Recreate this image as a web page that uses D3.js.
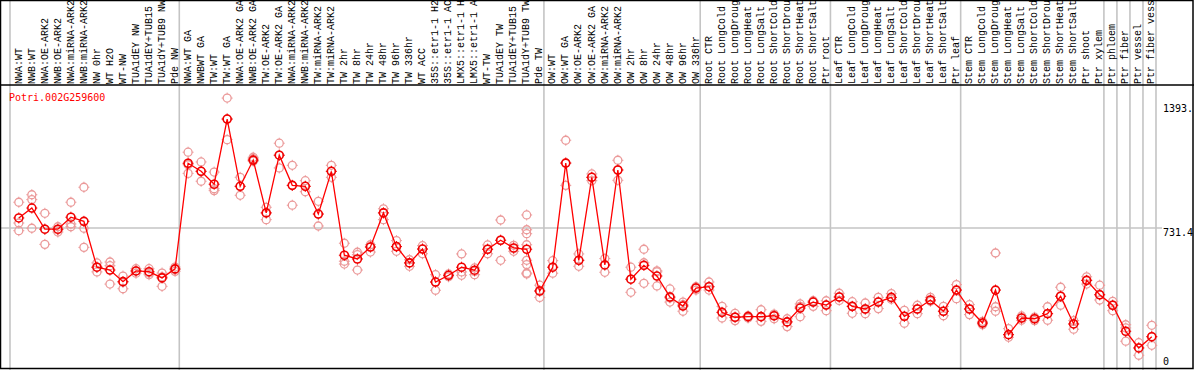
<!DOCTYPE html>
<html>
<head>
<meta charset="utf-8">
<script src="https://cdn.jsdelivr.net/npm/d3@7"></script>
<style>
body { margin: 0; background: #fff; }
svg text { font-family: "DejaVu Sans Mono", monospace; font-size: 10px; }
svg text.hdr { font-family: "Liberation Mono", monospace; font-size: 10px; }
</style>
</head>
<body>
<svg id="chart" width="1194" height="370"></svg>
<script>
// gene shown in the chart
var geneId = "Potri.002G259600";

// sample names, left to right
var samples = [
  "NWA:WT", "NWB:WT", "NWA:OE-ARK2", "NWB:OE-ARK2", "NWA:miRNA-ARK2", "NWB:miRNA-ARK2",
  "NW 0hr", "WT H2O", "WT-NW", "TUA1dEY NW", "TUA1dEY+TUB15 NW", "TUA1dY+TUB9 NW", "Pde NW",
  "NWA:WT GA", "NWBWT GA", "TW:WT", "TW:WT GA", "NWA:OE-ARK2 GA", "NWB:OE-ARK2 GA",
  "TW:OE-ARK2", "TW:OE-ARK2 GA", "NWA:miRNA-ARK2", "NWB:miRNA-ARK2", "TW:miRNA-ARK2",
  "TW:miRNA-ARK2", "TW 2hr", "TW 8hr", "TW 24hr", "TW 48hr", "TW 96hr", "TW 336hr",
  "WT ACC", "35S::etr1-1 H2O", "35S::etr1-1 ACC", "LMX5::etr1-1 H2O", "LMX5::etr1-1 ACC",
  "WT-TW", "TUA1dEY TW", "TUA1dEY+TUB15 TW", "TUA1dY+TUB9 TW", "Pde TW",
  "OW:WT", "OW:WT GA", "OW:OE-ARK2", "OW:OE-ARK2 GA", "OW:miRNA-ARK2", "OW:miRNA-ARK2",
  "OW 2hr", "OW 8hr", "OW 24hr", "OW 48hr", "OW 96hr", "OW 336hr",
  "Root CTR", "Root LongCold", "Root LongDrought", "Root LongHeat", "Root LongSalt",
  "Root ShortCold", "Root ShortDrought", "Root ShortHeat", "Root ShortSalt", "Ptr root",
  "Leaf CTR", "Leaf LongCold", "Leaf LongDrought", "Leaf LongHeat", "Leaf LongSalt",
  "Leaf ShortCold", "Leaf ShortDrought", "Leaf ShortHeat", "Leaf ShortSalt", "Ptr leaf",
  "Stem CTR", "Stem LongCold", "Stem LongDrought", "Stem LongHeat", "Stem LongSalt",
  "Stem ShortCold", "Stem ShortDrought", "Stem ShortHeat", "Stem ShortSalt", "Ptr shoot",
  "Ptr xylem", "Ptr phloem", "Ptr fiber", "Ptr vessel", "Ptr fiber vessel"
];

// mean expression per sample
var means = [
  785, 838, 725, 725, 789, 767, 522, 507, 445, 502, 498, 465, 513,
  1077, 1034, 965, 1313, 954, 1094, 812, 1120, 959, 954, 806, 1034,
  586, 566, 630, 812, 632, 545, 619, 443, 479, 522, 506,
  618, 666, 625, 618, 395,
  522, 1078, 559, 1002, 534, 1041, 458, 532, 475, 363, 315, 411,
  418, 281, 255, 258, 258, 263, 230, 304, 336, 320,
  363, 313, 299, 336, 361, 260, 299, 347, 287, 400,
  299, 224, 400, 162, 251, 247, 274, 367, 219, 452,
  375, 319, 180, 91, 151
];

// replicate values per sample
var reps = [
  [869, 758, 717], [909, 883, 730], [810, 725, 644], [738, 722, 710], [869, 753, 738],
  [949, 730, 628], [545, 522, 497], [550, 530, 432], [475, 442, 407], [514, 502, 490],
  [514, 491, 482], [491, 471, 420], [523, 509, 500],
  [1136, 1069, 1023], [1084, 1034, 981], [1030, 941, 931], [1425, 1313, 1203],
  [1002, 954, 906], [1109, 1101, 1088], [842, 812, 776], [1184, 1120, 1052],
  [1066, 959, 853], [984, 954, 925], [874, 806, 742], [1066, 1034, 1002],
  [650, 554, 539], [602, 589, 507], [642, 630, 603], [834, 812, 776], [664, 632, 607],
  [562, 545, 527], [637, 619, 594], [482, 443, 399], [486, 479, 471], [593, 497, 479],
  [518, 500, 482],
  [641, 618, 594], [774, 666, 559], [639, 621, 607],
  [801, 722, 701, 642, 559, 536, 491, 486], [426, 395, 361],
  [557, 522, 490], [1200, 1078, 959], [593, 559, 527], [1020, 1002, 984], [568, 534, 495],
  [1093, 1041, 986], [522, 458, 388], [618, 546, 436], [503, 497, 422], [406, 358, 336],
  [336, 322, 287], [418, 411, 400],
  [443, 418, 400], [313, 281, 251], [276, 255, 237], [263, 258, 251], [295, 258, 233],
  [272, 263, 247], [247, 230, 205], [326, 313, 258], [343, 336, 313], [343, 320, 290],
  [383, 363, 345], [338, 313, 276], [331, 299, 274], [361, 336, 301], [381, 361, 351],
  [292, 260, 223], [319, 299, 274], [361, 343, 340], [313, 287, 263], [429, 400, 354],
  [322, 299, 269], [233, 224, 215], [598, 311, 287], [194, 162, 148], [262, 251, 239],
  [255, 247, 237], [311, 274, 239], [415, 367, 319], [237, 219, 191], [471, 452, 432],
  [426, 375, 347], [340, 319, 290], [215, 198, 127], [119, 91, 52], [212, 151, 105]
];

// sample index where each separator line sits
var groupStarts = [0, 13, 41, 53, 63, 73, 84, 85, 86, 87, 88];

// value labels on the right side
var yTickValues = [1393, 731.4, 0];
var yTickLabels = ["1393.", "731.4", "0"];
var midValue = 731.4;

var W = 1194, H = 370;
var headerBottom = 85;
var plotLeft = 10, plotRight = 1156;
var maxChars = 14;   // header column only fits this many characters

var svg = d3.select("#chart");

var x = d3.scaleBand()
  .domain(d3.range(samples.length))
  .range([plotLeft, plotRight])
  .paddingInner(0).paddingOuter(0);

var y = d3.scaleLinear()
  .domain([0, 1462.8])
  .range([365, 91]);

function cx(i) { return x(i) + 8.8; }

// grey separators through the header and plot
svg.append("g").selectAll("line").data(groupStarts).enter().append("line")
  .attr("x1", function(d) { return d < samples.length ? x(d) : plotRight; })
  .attr("x2", function(d) { return d < samples.length ? x(d) : plotRight; })
  .attr("y1", 0).attr("y2", H)
  .attr("stroke", "#c4c4c4").attr("stroke-width", 1.6);

svg.append("line")
  .attr("x1", 0).attr("x2", 1162)
  .attr("y1", y(midValue)).attr("y2", y(midValue))
  .attr("stroke", "#c4c4c4").attr("stroke-width", 1.6);

// frame
svg.append("rect").attr("x", 0.5).attr("y", 0.5).attr("width", W - 1.5).attr("height", H - 2)
  .attr("fill", "none").attr("stroke", "#000").attr("stroke-width", 1.5);
svg.append("line").attr("x1", 0).attr("x2", W).attr("y1", headerBottom).attr("y2", headerBottom)
  .attr("stroke", "#000").attr("stroke-width", 1.5);

// header labels, cut to the column height like the original
svg.append("g")
  .selectAll("text").data(samples).enter().append("text")
  .attr("class", "hdr")
  .attr("transform", function(d, i) { return "translate(" + (x(i) + 11.5) + "," + 84 + ") rotate(-90)"; })
  .attr("fill", "#000")
  .text(function(d) { return d.length > maxChars ? d.slice(0, maxChars) : d; });

// replicate points
var repData = [];
reps.forEach(function(r, i) {
  r.forEach(function(v) { repData.push({i: i, v: v}); });
});

function marker(g, col, w) {
  g.append("circle").attr("r", 4).attr("fill", "none").attr("stroke", col).attr("stroke-width", w);
  [[0, -4, 0, -5.5], [0, 4, 0, 5.5], [-4, 0, -5.5, 0], [4, 0, 5.5, 0]].forEach(function(t) {
    g.append("line").attr("x1", t[0]).attr("y1", t[1]).attr("x2", t[2]).attr("y2", t[3])
      .attr("stroke", col).attr("stroke-width", 1);
  });
}

svg.append("g").selectAll("g").data(repData).enter().append("g")
  .attr("transform", function(d) { return "translate(" + cx(d.i) + "," + y(d.v) + ")"; })
  .each(function() { marker(d3.select(this), "#eb9a9a", 1.3); });

// mean line
var line = d3.line()
  .x(function(d, i) { return cx(i); })
  .y(function(d) { return y(d); });

svg.append("path").datum(means)
  .attr("d", line)
  .attr("fill", "none").attr("stroke", "#ff0000").attr("stroke-width", 1.3);

svg.append("g").selectAll("g").data(means).enter().append("g")
  .attr("transform", function(d, i) { return "translate(" + cx(i) + "," + y(d) + ")"; })
  .each(function() { marker(d3.select(this), "#f00000", 1.6); });

// gene id
svg.append("text").attr("x", 9).attr("y", 101).attr("fill", "#ff0000").text(geneId);

// right value labels
svg.append("g").selectAll("text").data(yTickValues).enter().append("text")
  .attr("x", 1163)
  .attr("y", function(d) { return Math.min(y(d) + 8, 365); })
  .attr("fill", "#000")
  .text(function(d, i) { return yTickLabels[i]; });
</script>
</body>
</html>
